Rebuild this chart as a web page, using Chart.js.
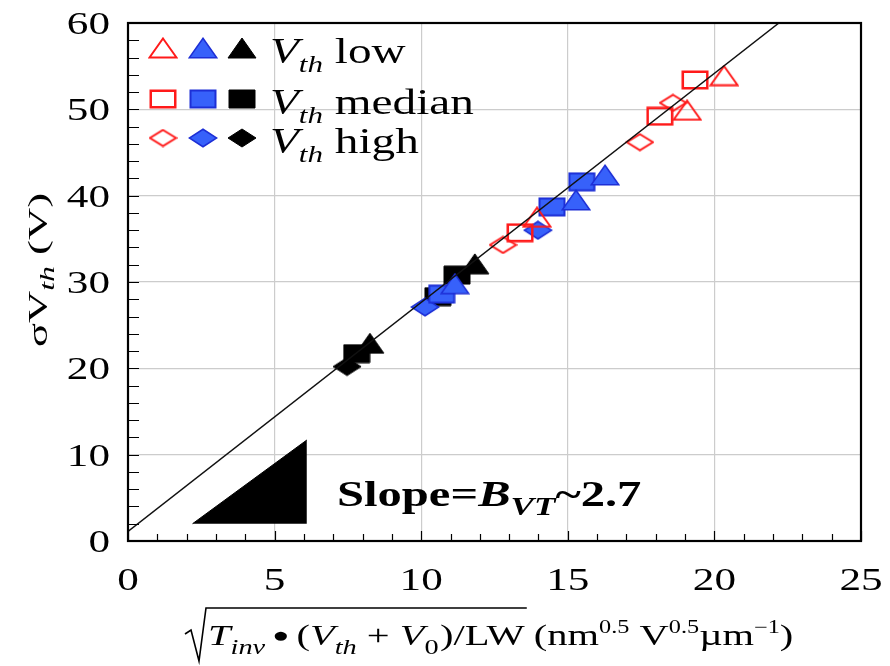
<!DOCTYPE html>
<html>
<head>
<meta charset="utf-8">
<script src="https://cdn.jsdelivr.net/npm/chart.js@4.4.1/dist/chart.umd.min.js"></script>
<style>
  body { margin: 0; background: #fff; }
  #wrap { width: 890px; height: 666px; }
</style>
</head>
<body>
<div id="wrap"><canvas id="vtPlot" width="890" height="666"></canvas></div>
<script>

// axis ticks
const xTicks = [0, 5, 10, 15, 20, 25];
const yTicks = [0, 10, 20, 30, 40, 50, 60];

// measured points [x, sigmaVth], one list per colour / Vth level
const redLow    = [[13.95, 37.5], [19.07, 49.9], [20.33, 53.9]];
const redMed    = [[13.37, 35.7], [18.14, 49.2], [19.34, 53.4]];
const redHigh   = [[12.79, 34.3], [17.46, 46.2], [18.59, 50.75]];
const blueLow   = [[11.15, 29.8], [15.28, 39.5], [16.27, 42.4]];
const blueMed   = [[10.70, 28.6], [14.46, 38.7], [15.48, 41.6]];
const blueHigh  = [[10.13, 27.1], [13.98, 36.0]];
const blackLow  = [[8.25, 22.9], [11.83, 32.1]];
const blackMed  = [[7.80, 21.7], [10.57, 28.3], [11.22, 30.8]];
const blackHigh = [[7.47, 20.2]];

// fitted line end points and the slope wedge (hypotenuse, filled down to its base)
const fitLine = [[0, 1.1], [22.2, 60]];
const wedge = [[2.2, 2.0], [6.1, 11.7]];
const wedgeBase = 2.0;

const SX = 1.35; // text is drawn a bit wide

function pts(arr) {
  return arr.map(p => ({ x: p[0], y: p[1] }));
}

// little canvases used as point styles (markers are wider than tall)
function makeMarker(shape, w, h, fill, stroke, lw) {
  const c = document.createElement('canvas');
  c.width = w; c.height = h;
  const g = c.getContext('2d');
  const p = lw / 2 + 0.5;
  g.beginPath();
  if (shape === 'tri') {
    g.moveTo(w / 2, p); g.lineTo(w - p, h - p); g.lineTo(p, h - p);
  } else if (shape === 'sq') {
    g.rect(p, p, w - 2 * p, h - 2 * p);
  } else {
    g.moveTo(w / 2, p); g.lineTo(w - p, h / 2); g.lineTo(w / 2, h - p); g.lineTo(p, h / 2);
  }
  g.closePath();
  if (fill) { g.fillStyle = fill; g.fill(); }
  if (stroke) { g.lineWidth = lw; g.strokeStyle = stroke; g.stroke(); }
  return c;
}

const RED = '#ff1a1a', BLUE = '#3761fa', BLUE_EDGE = '#1d2fd6';
const mk = {
  redTri:   makeMarker('tri', 30, 22, null, RED, 2),
  redSq:    makeMarker('sq', 28, 20, null, RED, 2.5),
  redDia:   makeMarker('dia', 29, 19, null, RED, 2),
  blueTri:  makeMarker('tri', 30, 22, BLUE, BLUE_EDGE, 1.5),
  blueSq:   makeMarker('sq', 28, 20, BLUE, BLUE_EDGE, 2),
  blueDia:  makeMarker('dia', 30, 20, BLUE, BLUE_EDGE, 1.5),
  blackTri: makeMarker('tri', 30, 22, '#000', '#000', 1),
  blackSq:  makeMarker('sq', 28, 20, '#000', '#000', 1),
  blackDia: makeMarker('dia', 30, 20, '#000', '#000', 1)
};

function series(label, arr, marker) {
  return { label: label, data: pts(arr), pointStyle: marker, pointRadius: 12, pointHoverRadius: 12, showLine: false };
}

// draw a row of text pieces, each {t, f, dy}; returns the width used
function runs(ctx, x, y, list, sx, measureOnly) {
  let cx = 0;
  ctx.save();
  ctx.translate(x, y);
  ctx.scale(sx, 1);
  ctx.textAlign = 'left';
  ctx.textBaseline = 'alphabetic';
  ctx.fillStyle = '#000';
  list.forEach(r => {
    ctx.font = r.f;
    if (!measureOnly) ctx.fillText(r.t, cx + (r.dx || 0), r.dy || 0);
    cx += ctx.measureText(r.t).width + (r.dx || 0);
  });
  ctx.restore();
  return cx * sx;
}

const serif = '"Liberation Serif", "Times New Roman", serif';

const decorations = {
  id: 'decorations',
  afterDraw(chart) {
    const ctx = chart.ctx;
    const a = chart.chartArea;
    const xs = chart.scales.x, ys = chart.scales.y;

    ctx.save();
    // inward minor ticks
    ctx.strokeStyle = '#000';
    ctx.lineWidth = 1.2;
    ctx.beginPath();
    for (let v = 0; v <= 25; v++) {
      const px = Math.round(xs.getPixelForValue(v)) + 0.5;
      const len = v % 5 === 0 ? 10 : 7;
      ctx.moveTo(px, a.bottom); ctx.lineTo(px, a.bottom - len);
    }
    for (let v = 0; v <= 60; v += 2) {
      const py = Math.round(ys.getPixelForValue(v)) + 0.5;
      ctx.moveTo(a.left, py); ctx.lineTo(a.left + 11, py);
    }
    ctx.stroke();

    // frame
    ctx.lineWidth = 2.2;
    ctx.strokeRect(a.left, a.top, a.right - a.left, a.bottom - a.top);

    // tick labels
    const tickFont = '32px ' + serif;
    xTicks.forEach(v => {
      const w = runs(ctx, 0, 0, [{ t: String(v), f: tickFont }], SX, true);
      runs(ctx, xs.getPixelForValue(v) - w / 2, 590, [{ t: String(v), f: tickFont }], SX);
    });
    yTicks.forEach(v => {
      const w = runs(ctx, 0, 0, [{ t: String(v), f: tickFont }], SX, true);
      runs(ctx, 110 - w, ys.getPixelForValue(v) + 11, [{ t: String(v), f: tickFont }], SX);
    });

    // legend
    const lf = '35px ' + serif, lfi = 'italic 35px ' + serif, lsub = 'italic 23px ' + serif;
    const rows = [
      { y: 48, m: [mk.redTri, mk.blueTri, mk.blackTri], word: ' low' },
      { y: 99, m: [mk.redSq, mk.blueSq, mk.blackSq], word: ' median' },
      { y: 138, m: [mk.redDia, mk.blueDia, mk.blackDia], word: ' high' }
    ];
    const mxs = [163, 203, 242];
    rows.forEach(r => {
      r.m.forEach((img, i) => ctx.drawImage(img, mxs[i] - img.width / 2, r.y - img.height / 2));
      runs(ctx, 270, r.y + 15, [
        { t: 'V', f: lfi },
        { t: 'th', f: lsub, dy: 9 },
        { t: r.word, f: lf }
      ], SX);
    });

    // slope note
    const bf = 'bold 36px ' + serif, bfi = 'bold italic 36px ' + serif, bsub = 'bold italic 26px ' + serif;
    runs(ctx, 337, 506, [
      { t: 'Slope=', f: bf },
      { t: 'B', f: bfi },
      { t: 'VT', f: bsub, dy: 9 },
      { t: '~2.7', f: bf }
    ], SX);

    // y title, rotated
    const yf = '28px ' + serif, yfs = 'italic 20px ' + serif;
    const yRuns = [
      { t: '\u03C3V', f: yf },
      { t: 'th', f: yfs, dy: 7 },
      { t: ' (V)', f: yf }
    ];
    const yw = runs(ctx, 0, 0, yRuns, 1, true);
    const ysx = 154 / yw;
    ctx.save();
    ctx.translate(47, 270);
    ctx.rotate(-Math.PI / 2);
    runs(ctx, -yw * ysx / 2, 0, yRuns, ysx);
    ctx.restore();

    // x title with radical
    const xf = '30px ' + serif, xfi = 'italic 30px ' + serif;
    const xsub = 'italic 21px ' + serif, xsubr = '21px ' + serif, xsup = '18px ' + serif;
    const base = 645;
    const radicand = [
      { t: 'T', f: xfi },
      { t: 'inv', f: xsub, dy: 9 },
      { t: ' \u25CF ', f: '21px ' + serif, dy: -3 },
      { t: '(', f: xf },
      { t: 'V', f: xfi },
      { t: 'th', f: xsub, dy: 9 },
      { t: ' + ', f: xf },
      { t: 'V', f: xfi },
      { t: '0', f: xsubr, dy: 9 },
      { t: ')/LW', f: xf, dx: 1 }
    ];
    const rx = 208;
    const rw = runs(ctx, rx, base, radicand, SX);
    ctx.beginPath();
    ctx.lineWidth = 1.6;
    ctx.moveTo(185, 634);
    ctx.lineTo(191, 630);
    ctx.lineTo(199, 661);
    ctx.lineTo(206, 608);
    ctx.lineTo(rx + rw + 2, 608);
    ctx.stroke();
    runs(ctx, rx + rw + 9, base, [
      { t: '(nm', f: xf },
      { t: '0.5', f: xsup, dy: -12 },
      { t: ' V', f: xf },
      { t: '0.5', f: xsup, dy: -12 },
      { t: '\u00B5m', f: xf },
      { t: '\u22121', f: xsup, dy: -12 },
      { t: ')', f: xf }
    ], SX);
    ctx.restore();
  }
};

new Chart(document.getElementById('vtPlot'), {
  type: 'scatter',
  data: {
    datasets: [
      {
        type: 'line', label: 'fit', data: pts(fitLine),
        borderColor: '#111', borderWidth: 1.5, pointRadius: 0, fill: false
      },
      series('Vth low', redLow, mk.redTri),
      series('Vth median', redMed, mk.redSq),
      series('Vth high', redHigh, mk.redDia),
      series('Vth low', blueLow, mk.blueTri),
      series('Vth median', blueMed, mk.blueSq),
      series('Vth high', blueHigh, mk.blueDia),
      series('Vth low', blackLow, mk.blackTri),
      series('Vth median', blackMed, mk.blackSq),
      series('Vth high', blackHigh, mk.blackDia),
      {
        type: 'line', label: 'slope', data: pts(wedge),
        borderColor: '#000', borderWidth: 1, backgroundColor: '#000',
        pointRadius: 0, fill: { value: wedgeBase }
      }
    ]
  },
  plugins: [decorations],
  options: {
    responsive: false,
    animation: false,
    layout: { padding: { top: 23, right: 29, left: 0, bottom: 0 } },
    plugins: {
      legend: { display: false },
      tooltip: { enabled: false }
    },
    scales: {
      x: {
        type: 'linear', min: 0, max: 25,
        ticks: { display: false, stepSize: 5 },
        grid: { color: '#cccccc', lineWidth: 1.2, drawTicks: false },
        border: { display: false },
        afterFit: s => { s.height = 125; }
      },
      y: {
        type: 'linear', min: 0, max: 60,
        ticks: { display: false, stepSize: 10 },
        grid: { color: '#cccccc', lineWidth: 1.2, drawTicks: false },
        border: { display: false },
        afterFit: s => { s.width = 128; }
      }
    }
  }
});
</script>
</body>
</html>
